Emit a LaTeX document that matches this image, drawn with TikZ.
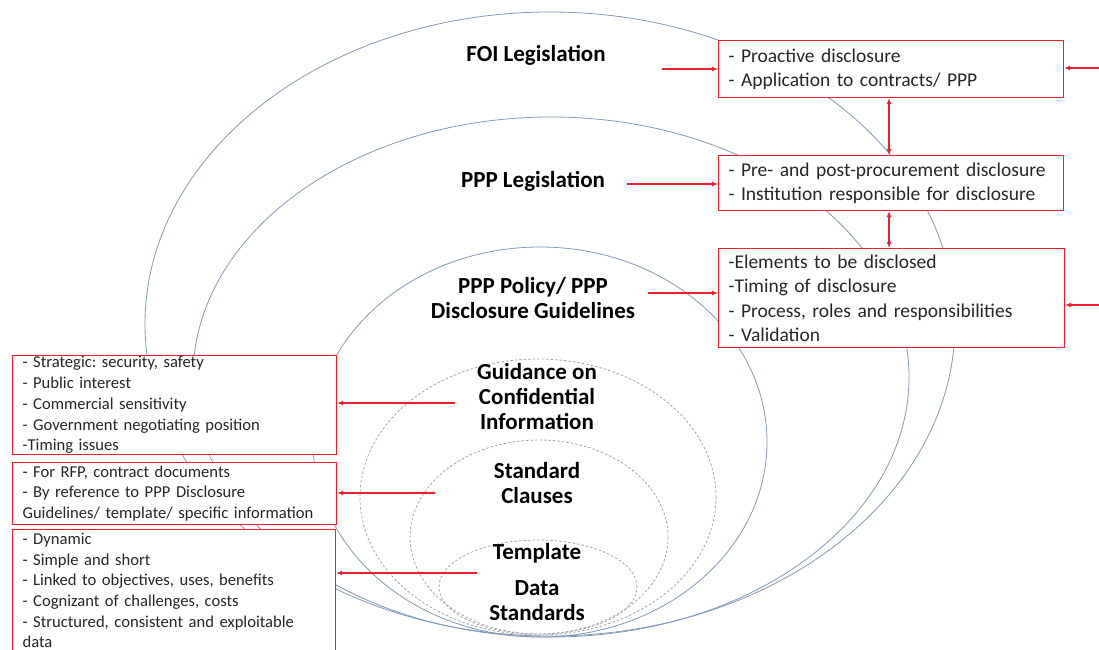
\documentclass[tikz,border=0pt]{standalone}
\usepackage{fontspec}
\setmainfont{Carlito}
\usetikzlibrary{arrows.meta}
\definecolor{boxred}{RGB}{240,30,45}
\definecolor{ellc}{RGB}{130,155,185}
\definecolor{dellc}{RGB}{165,165,170}
\definecolor{txt}{RGB}{38,38,38}
\frenchspacing
\begin{document}
\begin{tikzpicture}[x=1pt,y=-1pt,
  ell/.style={draw=ellc, line width=0.8pt},
  dell/.style={draw=dellc, line width=0.8pt, dash pattern=on 2.5pt off 2pt},
  rbox/.style={draw=boxred, line width=1.1pt, fill=white, inner xsep=10pt, inner ysep=0pt, anchor=north west, align=left, text=txt},
  rfont/.style={font=\fontsize{19.5}{24.5}\selectfont},
  lfont/.style={font=\fontsize{16.6}{20.8}\selectfont},
  lab/.style={font=\fontsize{23}{25}\selectfont\bfseries, align=center, text=black},
  arr/.style={draw=boxred, line width=1.3pt, -{Latex[length=6pt,width=5pt]}},
  darr/.style={draw=boxred, line width=1.3pt, {Latex[length=6pt,width=5pt]}-{Latex[length=6pt,width=5pt]}}]
\useasboundingbox (0,0) rectangle (1099,649);
\fill[white] (0,0) rectangle (1099,649);
% nested ellipses
\draw[ell] (550,324) ellipse [x radius=405pt, y radius=312pt];
\draw[ell] (551,377) ellipse [x radius=358pt, y radius=260pt];
\draw[ell] (540,442) ellipse [x radius=227pt, y radius=195pt];
\draw[dell] (538,497) ellipse [x radius=178pt, y radius=138pt];
\draw[dell] (539,537) ellipse [x radius=129pt, y radius=97pt];
\draw[dell] (538,587) ellipse [x radius=99pt, y radius=47pt];
% labels
\node[lab] (foi) at (536,55) {FOI Legislation};
\node[lab] (pppl) at (533,181) {PPP Legislation};
\node[lab] (pol) at (533,298) {PPP Policy/ PPP\\Disclosure Guidelines};
\node[lab] (gui) at (537,397) {Guidance on\\Confidential\\Information};
\node[lab] (std) at (537,483) {Standard\\Clauses};
\node[lab] (tpl) at (537,553) {Template};
\node[lab] (dat) at (537,601) {Data\\Standards};
% right boxes
\node[rbox, rfont, minimum width=345, minimum height=57, text width=325] (A) at (718,40)
  {- Proactive disclosure\\- Application to contracts/ PPP};
\node[rbox, rfont, minimum width=345, minimum height=55, text width=325] (B) at (718,155)
  {- Pre- and post-procurement disclosure\\- Institution responsible for disclosure};
\node[rbox, rfont, minimum width=346, minimum height=99, text width=326] (C) at (718,248)
  {-Elements to be disclosed\\-Timing of disclosure\\- Process, roles and responsibilities\\- Validation};
% left boxes
\node[rbox, lfont, minimum width=324, minimum height=99, text width=304] (D) at (12,355)
  {- Strategic: security, safety\\- Public interest\\- Commercial sensitivity\\- Government negotiating position\\-Timing issues};
\node[rbox, lfont, minimum width=324, minimum height=62, text width=304] (E) at (12,462)
  {- For RFP, contract documents\\- By reference to PPP Disclosure\\Guidelines/ template/ specific information};
\node[rbox, font=\fontsize{16.6}{20.6}\selectfont, minimum width=323, minimum height=122, text width=303] (F) at (12,529)
  {- Dynamic\\- Simple and short\\- Linked to objectives, uses, benefits\\- Cognizant of challenges, costs\\- Structured, consistent and exploitable\\data};
% arrow tails
\coordinate (tfoi) at (662,69);
\coordinate (tppp) at (627,184);
\coordinate (tpol) at (648,293);
\coordinate (tgui) at (455,403);
\coordinate (tstd) at (435,493);
\coordinate (ttpl) at (477,573);
\coordinate (ra) at (1099,68);
\coordinate (rc) at (1099,305);
\coordinate (dx) at (889,0);
% connectors
\draw[arr] (tfoi) -- (tfoi -| A.west);
\draw[arr] (tppp) -- (tppp -| B.west);
\draw[arr] (tpol) -- (tpol -| C.west);
\draw[arr] (tgui) -- (tgui -| D.east);
\draw[arr] (tstd) -- (tstd -| E.east);
\draw[arr] (ttpl) -- (ttpl -| F.east);
\draw[arr] (ra) -- (ra -| A.east);
\draw[arr] (rc) -- (rc -| C.east);
\draw[darr] (dx |- A.south) -- (dx |- B.north);
\draw[darr] (dx |- B.south) -- (dx |- C.north);
\end{tikzpicture}
\end{document}
